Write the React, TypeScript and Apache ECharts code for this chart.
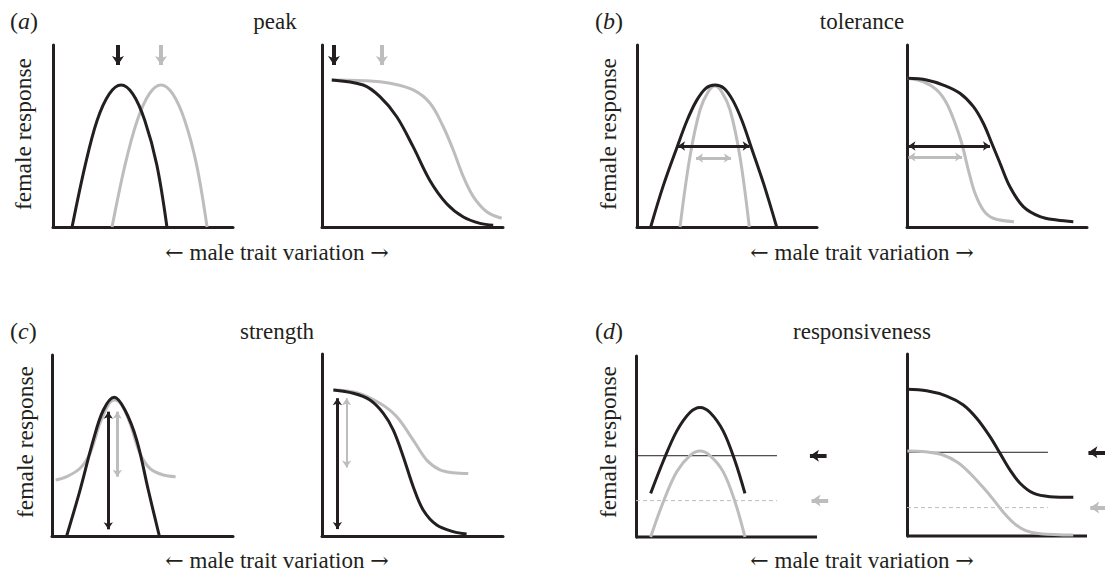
import React, { useEffect, useRef } from "react";
import * as echarts from "echarts";

const BLACK = "#231f20";
const GRAY = "#bdbdbd";
const FONT = "'Liberation Serif', 'DejaVu Serif', serif";
const ARROW_FONT = "'DejaVu Serif', 'Liberation Serif', serif";

// ---- data (x: male trait 0..100, y: female response 0..100) ----
const peakLeftBlack = [[10.6, 0], [17.9, 34], [24.5, 58.5], [31.2, 73], [37.8, 78], [44.4, 73], [51, 58.5], [57.7, 34], [63.3, 0]];
const peakLeftGray = [[32.8, 0], [40, 34], [46.8, 58.5], [53.4, 73], [60, 78], [66.6, 73], [73.2, 58.5], [79.8, 34], [85.6, 0]];
const peakRightBlack = [[5.4, 80.8], [22.8, 78], [32, 71.6], [41.3, 60.6], [50.4, 44], [59.6, 25.6], [68.9, 12.8], [78.1, 5.5], [87.3, 2], [94.6, 1]];
const peakRightGray = [[5.4, 80.8], [22.8, 80.4], [37.6, 79], [50.4, 75.3], [59.7, 68], [67, 55.1], [72.5, 42.3], [78.1, 27.6], [83.6, 16.7], [91, 8.4], [99.3, 4.8]];
const peakMarkers = { leftBlack: 36.1, leftGray: 60, rightBlack: 6.6, rightGray: 33.1 };

const tolLeftBlack = [[7.6, 0], [14.7, 23], [22.3, 44], [27.8, 58.5], [33, 69.3], [38.2, 76.2], [43.3, 78], [48.4, 76.2], [53.4, 69.3], [58.3, 58.5], [63.4, 44], [70.6, 23], [77.6, 0]];
const tolLeftGray = [[23.9, 0], [29.4, 38.6], [35, 64.3], [39.6, 74.4], [43.3, 77.5], [47, 74.4], [51.7, 64.3], [57.2, 38.6], [62.4, 0]];
const tolRightBlack = [[0.2, 81.7], [10.9, 80.8], [20.2, 78], [29.4, 73.5], [36.9, 66.1], [42.4, 57], [47.1, 46], [51.7, 35], [57.2, 22.1], [64.6, 11.2], [73.9, 5.7], [83.2, 3.8], [92.4, 2.9]];
const tolRightGray = [[0.2, 81.7], [9.1, 79.8], [16.5, 75.3], [22, 68], [26.7, 57], [30.4, 46], [34.1, 31.3], [37.8, 18.5], [42.4, 9.3], [47.9, 4.8], [59.4, 2.9]];
const tolWidthLeft = { black: [22.8, 62.6, 44.5], gray: [32.8, 52.2, 37.9] };
const tolWidthRight = { black: [0.8, 46.1, 44.5], gray: [0.8, 30.6, 38.5] };

const strLeftBlack = [[8.1, 0], [15.5, 25.4], [22.8, 53], [28.4, 69.6], [34.4, 76.6], [40.3, 69.6], [46.8, 53], [53.2, 25.4], [59.3, 0]];
const strLeftGray = [[2, 30.9], [8.1, 32.8], [15.5, 37.4], [21, 45.7], [26.5, 62.3], [31.1, 72.4], [34.4, 75.1], [38.5, 72.4], [43.1, 62.3], [48.6, 45.7], [54.1, 37.4], [61.5, 33.7], [68.3, 32.8]];
const strRightBlack = [[6.3, 80.2], [17.3, 78.4], [26.5, 74.7], [33.9, 67.4], [39.4, 58.2], [44.9, 43.6], [50.4, 27.1], [55.9, 14.3], [63.4, 6], [72.5, 2.4], [79.9, 1.1]];
const strRightGray = [[6.3, 80.2], [19.2, 78.7], [32, 72.9], [41.3, 65.5], [50.4, 52.7], [57.8, 41.8], [65.2, 36.3], [72.5, 34.8], [80.8, 34.4]];
const strHeightLeft = { black: [31.1, 68.7, 3.7], gray: [36.1, 68.7, 32.8] };
const strHeightRight = { black: [8.5, 75.7, 3.8], gray: [13.6, 75.7, 37.7] };

const respLeftBlack = [[8.1, 24.1], [15.1, 42], [22.5, 58.5], [29.8, 68.8], [35.4, 71.6], [40.9, 68.8], [48.2, 58.5], [54.7, 42], [60.2, 24.1]];
const respLeftGray = [[8.1, 0], [15.1, 19.5], [22.5, 36], [29.8, 45], [35.4, 47.5], [40.9, 45], [48.2, 36], [54.7, 19.5], [60.2, 0]];
const respRightBlack = [[0.2, 80.6], [10.9, 79.8], [22, 76.9], [31.3, 72], [38.7, 64.7], [46.1, 54.6], [51.7, 45.4], [57.2, 36.3], [62.8, 29], [70.2, 23.5], [79.4, 21.6], [92.4, 21.3]];
const respRightGray = [[0.2, 46.7], [10, 46.3], [20, 44.5], [28, 40.5], [35, 34.5], [42, 27], [48, 20], [54, 12.5], [60, 6.5], [66, 3], [74, 1.2], [92.4, 0.5]];
const respThreshLeft = { black: 44.9, gray: 20.1, end: 77.9, arrowFrom: 105.3, arrowTo: 96.1 };
const respThreshRight = { black: 46, gray: 15.6, end: 78.3, arrowFrom: 110, arrowTo: 100.8 };
const baseline = [[0, 0], [100, 0]];

const titles = ["peak", "tolerance", "strength", "responsiveness"];
const letters = ["a", "b", "c", "d"];
const yLabel = "female response";
const xLabelMid = " male trait variation ";

// ---- layout ----
const grids = [
  { left: 53, top: 45, width: 180, height: 182 },
  { left: 322, top: 45, width: 181, height: 182 },
  { left: 637, top: 45, width: 180, height: 182 },
  { left: 907, top: 45, width: 180, height: 182 },
  { left: 52, top: 355, width: 181, height: 181 },
  { left: 322, top: 354, width: 181, height: 182 },
  { left: 636, top: 356, width: 199.1, height: 181 },
  { left: 907, top: 354, width: 198, height: 182 },
];
const xMaxes = [100, 100, 100, 100, 100, 100, 110, 110];

function curve(idx: number, data: number[][], color: string) {
  return {
    type: "line", xAxisIndex: idx, yAxisIndex: idx, data, smooth: 0.35,
    showSymbol: false, symbol: "none", clip: false, silent: true,
    lineStyle: { color, width: 3 },
  };
}

function arrows(idx: number, items: any[]) {
  return {
    type: "line", xAxisIndex: idx, yAxisIndex: idx, data: [], silent: true,
    markLine: {
      silent: true, animation: false, label: { show: false },
      emphasis: { disabled: true },
      data: items.map((it) => [
        { coord: it.from, symbol: it.double ? "arrow" : "none", symbolSize: it.size },
        { coord: it.to, symbol: "arrow", symbolSize: it.size, lineStyle: { color: it.color, width: it.width, type: "solid" } },
      ]),
      lineStyle: { type: "solid" },
    },
  };
}

function hline(idx: number, y: number, end: number, color: string, dashed: boolean) {
  return {
    type: "line", xAxisIndex: idx, yAxisIndex: idx, data: [[0, y], [end, y]],
    showSymbol: false, symbol: "none", clip: false, silent: true,
    lineStyle: { color, width: 1, type: dashed ? [4, 3] : "solid" },
  };
}

export default function App() {
  const ref = useRef<HTMLDivElement>(null);
  useEffect(() => {
    if (!ref.current) return;
    const chart = echarts.init(ref.current, null, { renderer: "svg" });

    const xAxis = grids.map((_, i) => ({
      type: "value", gridIndex: i, min: 0, max: xMaxes[i],
      axisLine: { show: xMaxes[i] === 100, onZero: false, lineStyle: { color: BLACK, width: 3 } },
      axisTick: { show: false }, axisLabel: { show: false }, splitLine: { show: false },
    }));
    const yAxis = grids.map((_, i) => ({
      type: "value", gridIndex: i, min: 0, max: 100,
      axisLine: { show: true, onZero: false, lineStyle: { color: BLACK, width: 3 } },
      axisTick: { show: false }, axisLabel: { show: false }, splitLine: { show: false },
    }));

    const headBig = [9, 9];
    const headSmall = [7, 7];
    const series: any[] = [
      // (a) peak
      curve(0, peakLeftGray, GRAY), curve(0, peakLeftBlack, BLACK),
      arrows(0, [
        { from: [peakMarkers.leftBlack, 100], to: [peakMarkers.leftBlack, 89], color: BLACK, width: 4, size: headBig },
        { from: [peakMarkers.leftGray, 100], to: [peakMarkers.leftGray, 89], color: GRAY, width: 4, size: headBig },
      ]),
      curve(1, peakRightGray, GRAY), curve(1, peakRightBlack, BLACK),
      arrows(1, [
        { from: [peakMarkers.rightBlack, 100], to: [peakMarkers.rightBlack, 89], color: BLACK, width: 4, size: headBig },
        { from: [peakMarkers.rightGray, 100], to: [peakMarkers.rightGray, 89], color: GRAY, width: 4, size: headBig },
      ]),
      // (b) tolerance
      curve(2, tolLeftGray, GRAY), curve(2, tolLeftBlack, BLACK),
      arrows(2, [
        { from: [tolWidthLeft.black[0], tolWidthLeft.black[2]], to: [tolWidthLeft.black[1], tolWidthLeft.black[2]], color: BLACK, width: 3, size: headSmall, double: true },
        { from: [tolWidthLeft.gray[0], tolWidthLeft.gray[2]], to: [tolWidthLeft.gray[1], tolWidthLeft.gray[2]], color: GRAY, width: 3, size: headSmall, double: true },
      ]),
      curve(3, tolRightGray, GRAY), curve(3, tolRightBlack, BLACK),
      arrows(3, [
        { from: [tolWidthRight.black[0], tolWidthRight.black[2]], to: [tolWidthRight.black[1], tolWidthRight.black[2]], color: BLACK, width: 3, size: headSmall, double: true },
        { from: [tolWidthRight.gray[0], tolWidthRight.gray[2]], to: [tolWidthRight.gray[1], tolWidthRight.gray[2]], color: GRAY, width: 3, size: headSmall, double: true },
      ]),
      // (c) strength
      curve(4, strLeftGray, GRAY), curve(4, strLeftBlack, BLACK),
      arrows(4, [
        { from: [strHeightLeft.black[0], strHeightLeft.black[1]], to: [strHeightLeft.black[0], strHeightLeft.black[2]], color: BLACK, width: 3, size: headSmall, double: true },
        { from: [strHeightLeft.gray[0], strHeightLeft.gray[1]], to: [strHeightLeft.gray[0], strHeightLeft.gray[2]], color: GRAY, width: 3, size: headSmall, double: true },
      ]),
      curve(5, strRightGray, GRAY), curve(5, strRightBlack, BLACK),
      arrows(5, [
        { from: [strHeightRight.black[0], strHeightRight.black[1]], to: [strHeightRight.black[0], strHeightRight.black[2]], color: BLACK, width: 3, size: headSmall, double: true },
        { from: [strHeightRight.gray[0], strHeightRight.gray[1]], to: [strHeightRight.gray[0], strHeightRight.gray[2]], color: GRAY, width: 2, size: headSmall, double: true },
      ]),
      // (d) responsiveness
      curve(6, baseline, BLACK),
      hline(6, respThreshLeft.black, respThreshLeft.end, BLACK, false),
      hline(6, respThreshLeft.gray, respThreshLeft.end, GRAY, true),
      curve(6, respLeftGray, GRAY), curve(6, respLeftBlack, BLACK),
      arrows(6, [
        { from: [respThreshLeft.arrowFrom, respThreshLeft.black], to: [respThreshLeft.arrowTo, respThreshLeft.black], color: BLACK, width: 4, size: headBig },
        { from: [respThreshLeft.arrowFrom + 0.9, respThreshLeft.gray], to: [respThreshLeft.arrowTo + 0.9, respThreshLeft.gray], color: GRAY, width: 4, size: headBig },
      ]),
      curve(7, baseline, BLACK),
      hline(7, respThreshRight.black, respThreshRight.end, BLACK, false),
      hline(7, respThreshRight.gray, respThreshRight.end, GRAY, true),
      curve(7, respRightGray, GRAY), curve(7, respRightBlack, BLACK),
      arrows(7, [
        { from: [respThreshRight.arrowFrom, respThreshRight.black], to: [respThreshRight.arrowTo, respThreshRight.black], color: BLACK, width: 4, size: headBig },
        { from: [respThreshRight.arrowFrom, respThreshRight.gray], to: [respThreshRight.arrowTo + 1, respThreshRight.gray], color: GRAY, width: 4, size: headBig },
      ]),
    ];

    const panelText = [
      { lx: 10, ly: 21, tx: 275, yx: 23, yy: 134, ax: 277, ay: 252 },
      { lx: 595, ly: 21, tx: 862, yx: 608, yy: 134, ax: 862, ay: 252 },
      { lx: 10, ly: 331, tx: 277, yx: 25, yy: 442, ax: 277, ay: 560 },
      { lx: 595, ly: 331, tx: 862, yx: 608, yy: 442, ax: 862, ay: 560 },
    ];
    const base = { fill: BLACK, fontFamily: FONT, fontSize: 23 };
    const graphic: any[] = [];
    panelText.forEach((p, i) => {
      graphic.push({
        type: "text", x: p.lx, y: p.ly, silent: true,
        style: { ...base, fontSize: 24, text: "({i|" + letters[i] + "})", align: "left", verticalAlign: "middle",
          rich: { i: { fontStyle: "italic", fontFamily: FONT, fontSize: 24, fill: BLACK } } },
      });
      graphic.push({ type: "text", x: p.tx, y: p.ly, silent: true, style: { ...base, text: titles[i], align: "center", verticalAlign: "middle" } });
      graphic.push({ type: "text", x: p.yx, y: p.yy, rotation: Math.PI / 2, silent: true, style: { ...base, fontSize: 23.5, text: yLabel, align: "center", verticalAlign: "middle" } });
      graphic.push({
        type: "text", x: p.ax, y: p.ay, silent: true,
        style: { ...base, text: "{ar|\u2190}" + xLabelMid + "{ar|\u2192}", align: "center", verticalAlign: "middle",
          rich: { ar: { fontFamily: ARROW_FONT, fontSize: 22, fill: BLACK } } },
      });
    });

    chart.setOption({
      animation: false,
      backgroundColor: "#ffffff",
      grid: grids.map((g) => ({ ...g, containLabel: false })),
      xAxis, yAxis, series, graphic,
    });
    return () => chart.dispose();
  }, []);

  return <div ref={ref} style={{ position: "fixed", left: 0, top: 0, width: 1105, height: 573, background: "#fff" }} />;
}
